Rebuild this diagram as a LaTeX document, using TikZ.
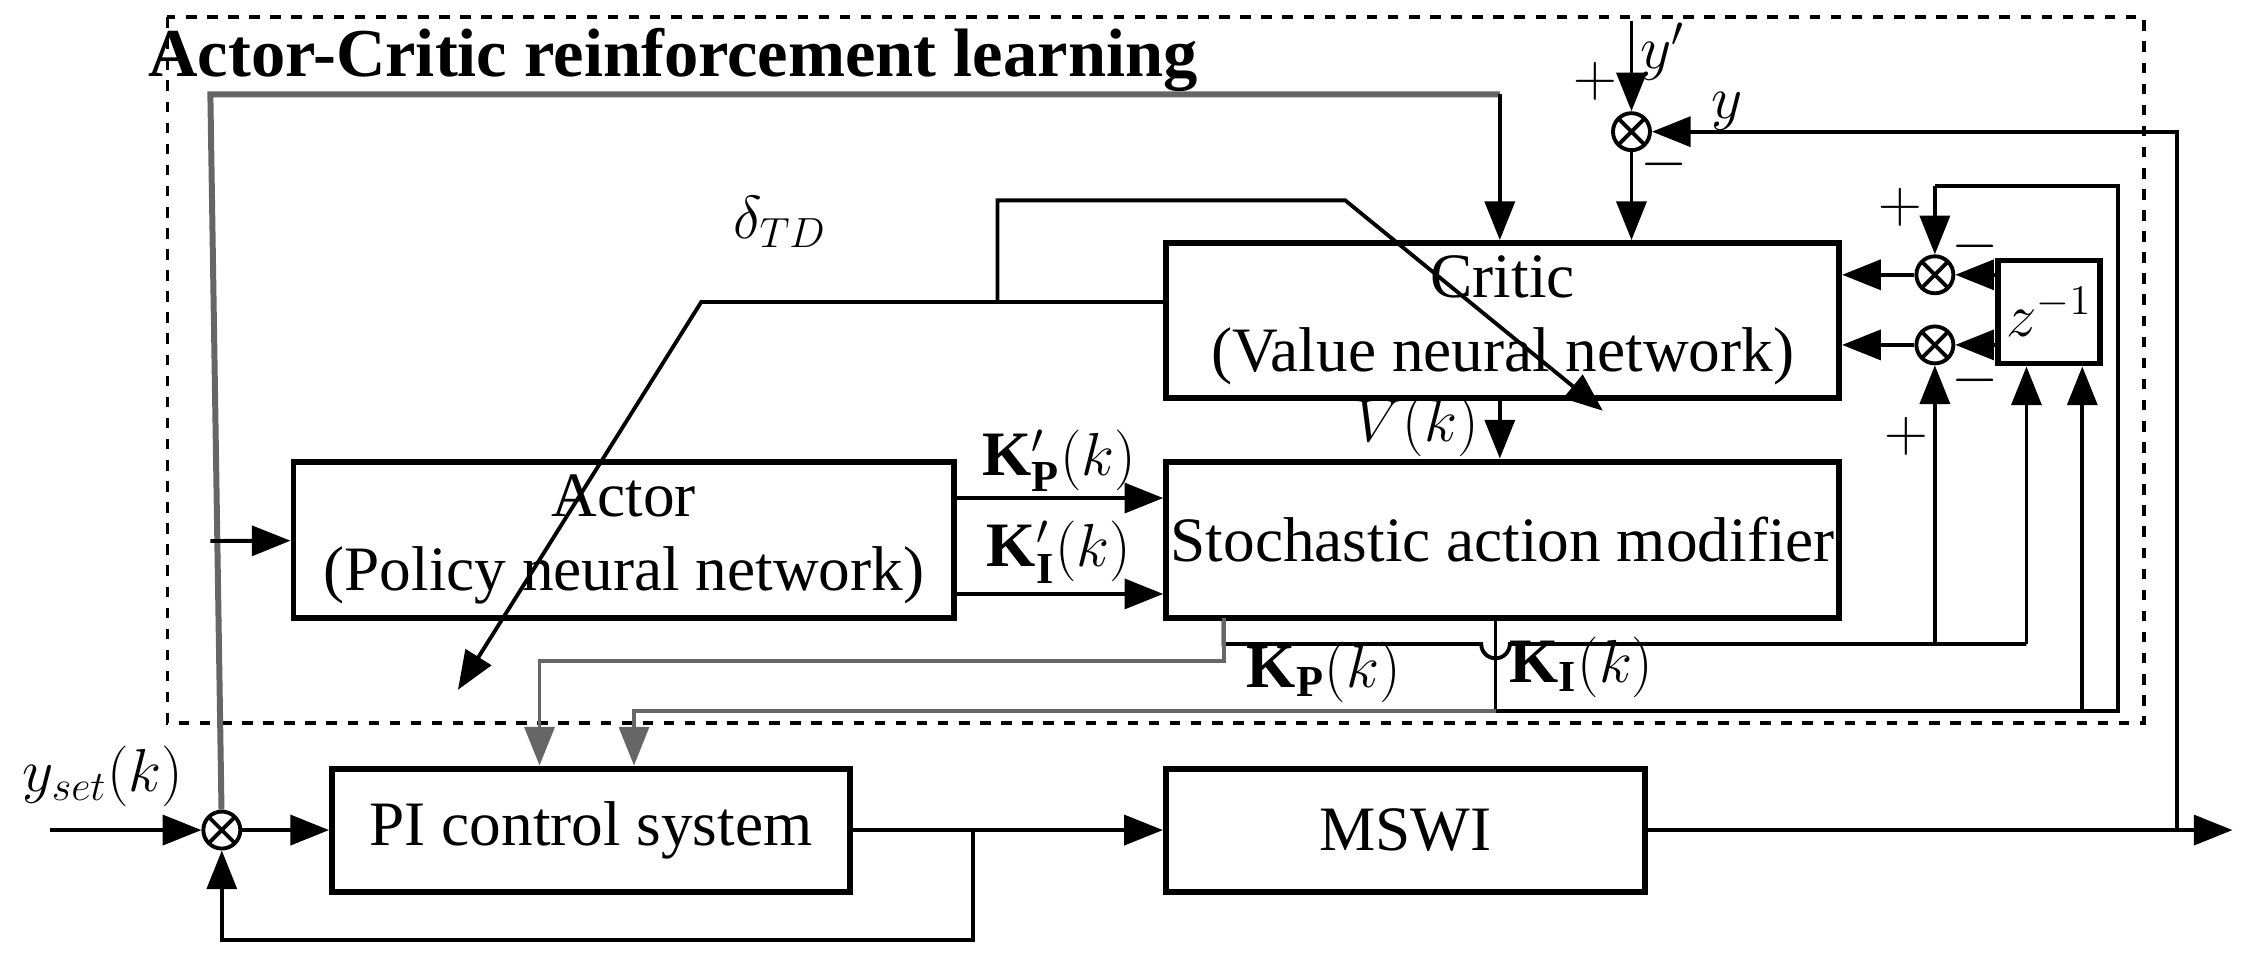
\documentclass[tikz,border=0pt]{standalone}
\usepackage{amsmath}
\usepackage{fontspec}
\setmainfont{Liberation Serif}
\usetikzlibrary{positioning, arrows.meta}

\begin{document}
\begin{tikzpicture}[
        x=0.01431cm, y=-0.01431cm,
        font=\fontsize{18}{21}\selectfont,
        block/.style={rectangle, draw=black, line width=1.7pt, inner sep=0pt, align=center},
        summ/.style={circle, draw=black, line width=1.1pt, minimum size=0.37cm, inner sep=0pt,
            path picture={\draw[line width=1.1pt] (path picture bounding box.north west) -- (path picture bounding box.south east)
                (path picture bounding box.north east) -- (path picture bounding box.south west);}},
        arrow/.style={-{Triangle[length=11pt,width=8.5pt]}, line width=1.1pt},
        wire/.style={line width=1.1pt},
        gwire/.style={line width=1.7pt, draw=black!60}
        ]
        \useasboundingbox (0,0) rectangle (1568,669);

        % learning frame
        \draw[dashed, line width=1.1pt] (117,12) rectangle (1498,505);
        \node[anchor=west, font=\fontsize{19.5}{22}\selectfont\bfseries] (title) at (95,42) {Actor-Critic reinforcement learning};

        % blocks
        \node[block, minimum width=6.73cm, minimum height=1.55cm] (critic) at (1050,224) {Critic\\(Value neural network)};
        \node[block, minimum width=6.73cm, minimum height=1.56cm] (sam) at (1050,377) {Stochastic action modifier};
        \node[block, minimum width=6.61cm, minimum height=1.56cm] (actor) at (436,377) {Actor\\(Policy neural network)};
        \node[block, minimum width=5.18cm, minimum height=1.23cm] (pi) at (413,580) {PI control system};
        \node[block, minimum width=4.79cm, minimum height=1.23cm] (mswi) at (982,580) {MSWI};
        \node[block, minimum width=1.02cm, minimum height=1.03cm] (zinv) at (1432,218) {$z^{-1}$};

        % summing points
        \node[summ] (s0) at (155,580) {};
        \node[summ] (s1) at (1140,92) {};
        \node[summ] (s2) at (1352,192) {};
        \node[summ] (s3) at (1352,241) {};

        % helper points
        \coordinate (yin) at (35,580);
        \coordinate (yout) at (1560,580);
        \coordinate (yref) at (1140,15);
        \coordinate (tdend) at (320,482);
        \coordinate (samend) at (1120,287);

        % main loop
        \draw[arrow] (yin) -- (s0);
        \node[anchor=south] (yset) at (72,572) {$y_{set}(k)$};
        \draw[arrow] (s0) -- (pi);
        \draw[arrow] (pi) -- (mswi);
        \draw[arrow] (mswi) -- (yout);
        \draw[wire, arrow] (680,580) -- (680,657) -| (s0);
        \draw[arrow] (1521,580) |- (s1);

        % error signal to actor and critic
        \draw[gwire] (s0) -- (147,66) -- (1048,66);
        \draw[arrow] (1048,66) -- (critic.north -| 1048,0);
        \draw[arrow] (147,378) -- (actor);

        % reference and TD error
        \draw[arrow] (yref) -- (s1);
        \draw[arrow] (s1) -- (s1 |- critic.north);
        \node (lyr) at (1162,36) {$y'$};
        \node (ly) at (1207,78) {$y$};
        \node (p1) at (1115,57) {$+$};
        \node (m1) at (1163,115) {$-$};
        \draw[wire, arrow] (critic.west |- 0,211) -- (490,211) -- (tdend);
        \draw[wire, arrow] (697,211) -- (697,140) -- (940,140) -- (samend);
        \node (ltd) at (545,155) {$\delta_{TD}$};

        % actor to modifier
        \draw[arrow] (actor.east |- 0,348) -- (sam.west |- 0,348);
        \draw[arrow] (actor.east |- 0,415) -- (sam.west |- 0,415);
        \node (lkpp) at (740,322) {$\mathbf{K}'_{\mathbf{P}}(k)$};
        \node (lkip) at (740,386) {$\mathbf{K}'_{\mathbf{I}}(k)$};
        \draw[arrow] (critic.south -| 1048,0) -- (sam.north -| 1048,0);
        \node (lv) at (990,298) {$V(k)$};

        % critic inputs
        \draw[arrow] (s2) -- (critic.east |- s2);
        \draw[arrow] (s3) -- (critic.east |- s3);
        \draw[arrow] (zinv.west |- s2) -- (s2);
        \draw[arrow] (zinv.west |- s3) -- (s3);
        \node (p2) at (1328,145) {$+$};
        \node (m2) at (1380,172) {$-$};
        \node (m3) at (1380,266) {$-$};
        \node (p3) at (1332,305) {$+$};

        % gains Kp
        \draw[wire] (sam.south -| 855,0) -- (855,450) -- (1035,450) arc (180:0:10) -- (1416,450);
        \draw[arrow] (1352,450) -- (s3);
        \draw[arrow] (1416,450) -- (zinv.south -| 1416,0);
        \draw[gwire, arrow] (855,432) -- (855,462) -- (377,462) -- (pi.north -| 377,0);
        \node (lkp) at (925,470) {$\mathbf{K}_{\mathbf{P}}(k)$};

        % gains Ki
        \draw[wire] (sam.south -| 1045,0) -- (1045,497) -- (1480,497) -- (1480,130) -- (1352,130);
        \draw[arrow] (1352,130) -- (s2);
        \draw[arrow] (1455,497) -- (zinv.south -| 1455,0);
        \draw[gwire, arrow] (1045,497) -- (443,497) -- (pi.north -| 443,0);
        \node (lki) at (1105,466) {$\mathbf{K}_{\mathbf{I}}(k)$};
    \end{tikzpicture}
\end{document}
